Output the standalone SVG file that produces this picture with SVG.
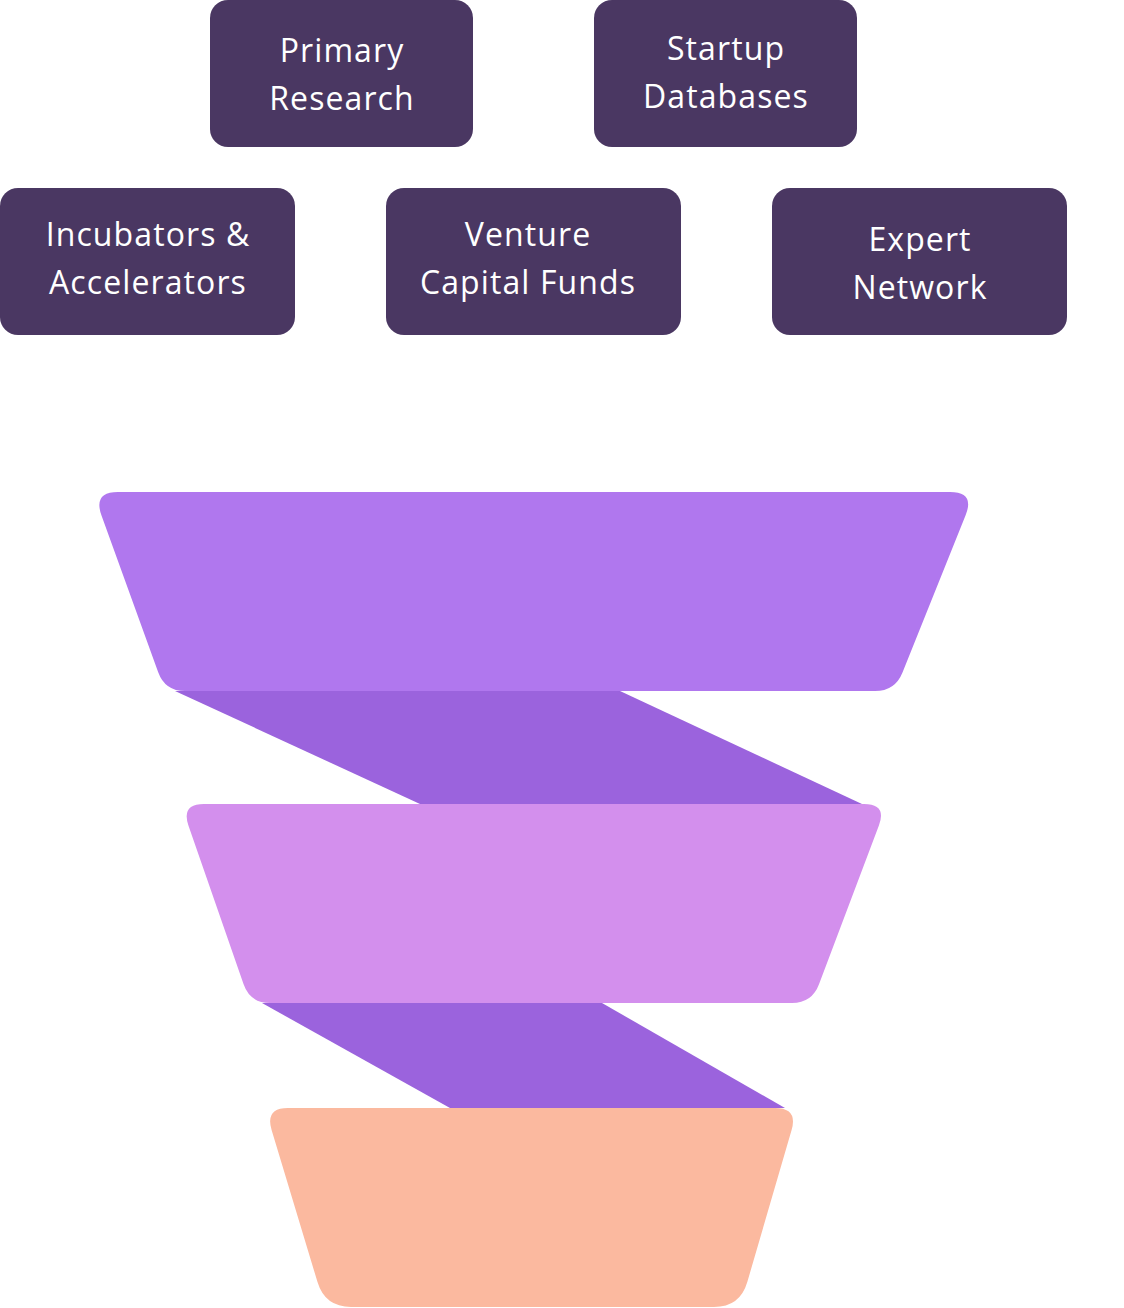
<svg xmlns="http://www.w3.org/2000/svg" width="1124" height="1308" viewBox="0 0 1124 1308">
<style>
.box{fill:#4A3762;}
.lbl{fill:#FFFFFF;font-family:"Open Sans","Liberation Sans",sans-serif;font-size:32px;font-weight:500;letter-spacing:1.1px;text-anchor:middle;}
.band{fill:#9B63DD;}
</style>
<rect width="1124" height="1308" fill="#FFFFFF"/>
<g id="node-primary-research">
<rect class="box" x="210" y="0" width="263" height="147" rx="18"/>
<text class="lbl" x="342" y="62">Primary</text>
<text class="lbl" x="342" y="110">Research</text>
</g>
<g id="node-startup-databases">
<rect class="box" x="594" y="0" width="263" height="147" rx="18"/>
<text class="lbl" x="726" y="60">Startup</text>
<text class="lbl" x="726" y="108">Databases</text>
</g>
<g id="node-incubators">
<rect class="box" x="0" y="188" width="295" height="147" rx="18"/>
<text class="lbl" x="148" y="246">Incubators &amp;</text>
<text class="lbl" x="148" y="294">Accelerators</text>
</g>
<g id="node-venture">
<rect class="box" x="386" y="188" width="295" height="147" rx="18"/>
<text class="lbl" x="528" y="246">Venture</text>
<text class="lbl" x="528" y="294">Capital Funds</text>
</g>
<g id="node-expert">
<rect class="box" x="772" y="188" width="295" height="147" rx="18"/>
<text class="lbl" x="920" y="251">Expert</text>
<text class="lbl" x="920" y="299">Network</text>
</g>
<g id="connectors">
<path class="band" d="M175,691 L620,691 L862,804 L420,804 Z"/>
<path class="band" d="M262,1003 L602,1003 L785,1108 L450,1108 Z"/>
</g>
<g id="funnel-1">
<path fill="#B077EE" d="M118,492 L950,492 Q975,492 965.6,515.2 L902.5,672.4 Q895,691 875,691 L185,691 Q165,691 158.2,672.2 L101.5,515.5 Q93,492 118,492 Z"/>
</g>
<g id="funnel-2">
<path fill="#D38FED" d="M204,804 L864,804 Q887,804 878.9,825.5 L819,984.3 Q812,1003 792,1003 L270,1003 Q250,1003 243.5,984.1 L188.5,825.7 Q181,804 204,804 Z"/>
</g>
<g id="funnel-3">
<path fill="#FBB99F" d="M288,1108 L775,1108 Q798,1108 791.6,1130 L747.3,1282 Q740,1307 714,1307 L351,1307 Q325,1307 317.5,1282.1 L271.6,1130 Q265,1108 288,1108 Z"/>
</g>
</svg>
